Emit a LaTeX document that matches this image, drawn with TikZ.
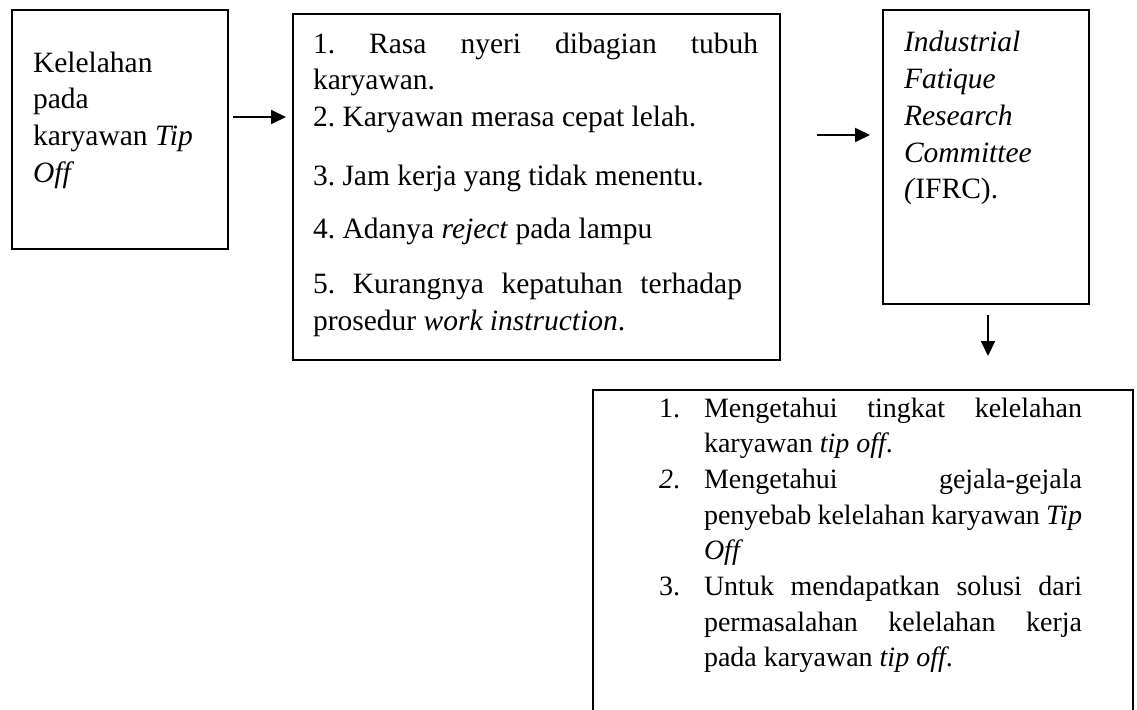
\documentclass[tikz,border=0pt]{standalone}
\usepackage{fontspec}
\setmainfont{Liberation Serif}
\usetikzlibrary{arrows.meta}
\newcommand{\normsp}{\spaceskip=0pt\xspaceskip=0pt\frenchspacing}
\newcommand{\jline}[2]{\makebox[#1][s]{\normsp #2}}
\begin{document}
\begin{tikzpicture}[x=1pt,y=-1pt,
  box/.style={draw=black, line width=2pt, inner sep=0pt, outer sep=0pt, anchor=north west},
  txt/.style={inner sep=0pt, outer sep=0pt, anchor=base west, align=left, font=\fontsize{29.5}{36.7}\selectfont},
  txtb/.style={inner sep=0pt, outer sep=0pt, anchor=base west, align=left, font=\fontsize{28}{35.7}\selectfont},
  arr/.style={line width=2pt, -{Triangle[length=15pt,width=14pt]}}]
\useasboundingbox (0,0) rectangle (1137,709);
\clip (0,0) rectangle (1137,709);
% boxes
\node[box, minimum width=216pt, minimum height=239pt] (b1) at (12,10) {};
\node[box, minimum width=487pt, minimum height=346pt] (b2) at (293,14) {};
\node[box, minimum width=206pt, minimum height=294pt] (b3) at (883,10) {};
\node[box, minimum width=540pt, minimum height=340pt] (b4) at (593,390) {};
% texts
\node[txt, text width=190pt] (t1) at (33,72) {\normsp Kelelahan\\pada\\karyawan \textit{Tip}\\\textit{Off}};
\node[txt, text width=460pt] (t2) at (313,53) {\normsp\jline{445pt}{1. Rasa nyeri dibagian tubuh}\\karyawan.\\2. Karyawan merasa cepat lelah.\\[22pt]3. Jam kerja yang tidak menentu.\\[17pt]4. Adanya \textit{reject} pada lampu\\[18pt]\jline{429pt}{5. Kurangnya kepatuhan terhadap}\\prosedur \textit{work instruction}.};
\node[txt, text width=180pt] (t3) at (904,52) {\normsp\textit{Industrial}\\\textit{Fatique}\\\textit{Research}\\\textit{Committee}\\\textit{(}IFRC).};
\node[txtb] (n1) at (659,417) {1.};
\node[txtb] (n2) at (659,488.4) {\textit{2}.};
\node[txtb] (n3) at (659,595.5) {3.};
\node[txtb, text width=390pt] (t4) at (704,417) {\normsp\jline{378pt}{Mengetahui tingkat kelelahan}\\karyawan \textit{tip off}.\\\jline{378pt}{Mengetahui gejala-gejala}\\\jline{378pt}{penyebab kelelahan karyawan \textit{Tip}}\\\textit{Off}\\\jline{378pt}{Untuk mendapatkan solusi dari}\\\jline{378pt}{permasalahan kelelahan kerja}\\pada karyawan \textit{tip off}.};
% arrows
\draw[arr] ([xshift=5pt,yshift=12.5pt]b1.east) -- ([xshift=-7pt,yshift=70pt]b2.west);
\draw[arr] ([xshift=37pt,yshift=52pt]b2.east) -- ([xshift=-13pt,yshift=22pt]b3.west);
\draw[arr] ([xshift=2pt,yshift=-11pt]b3.south) -- ([xshift=125pt,yshift=34pt]b4.north);
\end{tikzpicture}
\end{document}
